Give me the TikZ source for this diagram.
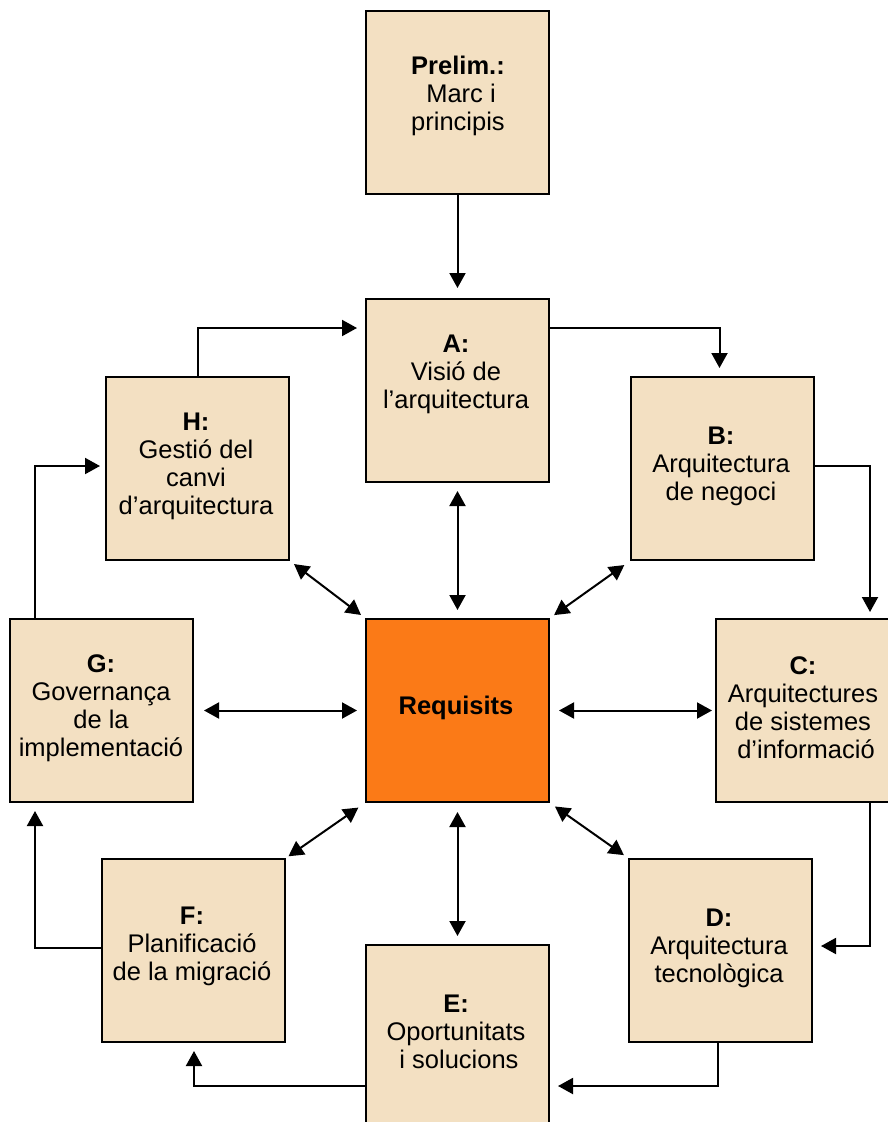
\documentclass[tikz,border=0pt]{standalone}
\usepackage{fontspec}
\setmainfont{Liberation Sans}
\usetikzlibrary{arrows.meta}
\definecolor{phasefill}{HTML}{F3E0C2}
\definecolor{reqfill}{HTML}{FB7A17}
\begin{document}
\begin{tikzpicture}[x=1pt,y=-1pt,
  phase/.style={draw=black,line width=2pt,fill=phasefill,minimum width=183pt,minimum height=183pt,inner sep=0pt,anchor=north west},
  req/.style={phase,fill=reqfill},
  lbl/.style={align=center,font=\fontsize{25.5}{28}\selectfont,inner sep=0pt},
  conn/.style={line width=2pt,-{Triangle[length=15pt,width=16pt]},shorten >=8pt},
  both/.style={line width=2pt,{Triangle[length=15pt,width=16pt]}-{Triangle[length=15pt,width=16pt]}}]
\useasboundingbox (0,0) rectangle (888,1122);
\clip (0,0) rectangle (888,1122);
\fill[white] (0,0) rectangle (888,1122);

% phase boxes
\node[phase] (P) at (365,10) {};
\node[phase] (A) at (365,298) {};
\node[phase] (H) at (105,376) {};
\node[phase] (B) at (630,376) {};
\node[phase] (G) at (9,618) {};
\node[req]   (R) at (365,618) {};
\node[phase] (C) at (715,618) {};
\node[phase] (F) at (101,858) {};
\node[phase] (D) at (628,858) {};
\node[phase] (E) at (365,944) {};

% box texts
\node[lbl] (Ptxt) at (458,96) {\textbf{Prelim.:}\\\hspace*{6pt}Marc i\\principis};
\node[lbl] (Atxt) at (456,374) {\textbf{A:}\\Visió de\\l’arquitectura};
\node[lbl] (Htxt) at (196,466) {\textbf{H:}\\Gestió del\\canvi\\d’arquitectura};
\node[lbl] (Btxt) at (721,466) {\textbf{B:}\\Arquitectura\\de negoci};
\node[lbl] (Gtxt) at (101,708) {\textbf{G:}\\Governança\\de la\\implementació};
\node[lbl] (Rtxt) at (456,708) {\textbf{Requisits}};
\node[lbl] (Ctxt) at (803,708) {\textbf{C:}\\Arquitectures\\de sistemes\\\hspace*{6pt}d’informació};
\node[lbl] (Ftxt) at (192,946) {\textbf{F:}\\Planificació\\de la migració};
\node[lbl] (Dtxt) at (719,948) {\textbf{D:}\\Arquitectura\\tecnològica};
\node[lbl] (Etxt) at (456,1032) {\textbf{E:}\\Oportunitats\\\hspace*{6pt}i solucions};

% cycle connectors
\draw[conn,shorten >=10pt] (P.south) -- (A.north);
\draw[conn] (H.north) |- ([yshift=-30pt]A.north west);
\draw[conn] ([yshift=-30pt]A.north east) -| ([xshift=-3pt]B.north);
\draw[conn,shorten >=6pt] ([yshift=-90pt]B.north east) -| ([xshift=155pt]C.north west);
\draw[conn] ([xshift=155pt]C.south west) |- ([yshift=-88pt]D.north east);
\draw[conn] ([xshift=90pt]D.south west) |- ([yshift=-142pt]E.north east);
\draw[conn] ([yshift=-142pt]E.north west) -| ([xshift=93pt]F.south west);
\draw[conn] ([yshift=-90pt]F.north west) -| ([xshift=26pt]G.south west);
\draw[conn,shorten >=5pt] ([xshift=26pt]G.north west) |- ([yshift=-90pt]H.north west);

% links to the requirements box
\draw[both,shorten <=8pt,shorten >=8pt] (A.south) -- (R.north);
\draw[both,shorten <=9pt,shorten >=8pt] (R.south) -- (E.north);
\draw[both,shorten <=8pt,shorten >=10pt] (R.west) -- (G.east);
\draw[both,shorten <=9pt,shorten >=3pt] (R.east) -- (C.west);
\draw[both,shorten <=5pt,shorten >=5pt] (H.south east) -- (R.north west);
\draw[both,shorten <=7pt,shorten >=5pt] (B.south west) -- (R.north east);
\draw[both,shorten <=3pt,shorten >=8pt] (F.north east) -- (R.south west);
\draw[both,shorten <=6pt,shorten >=5pt] (R.south east) -- (D.north west);
\end{tikzpicture}
\end{document}
